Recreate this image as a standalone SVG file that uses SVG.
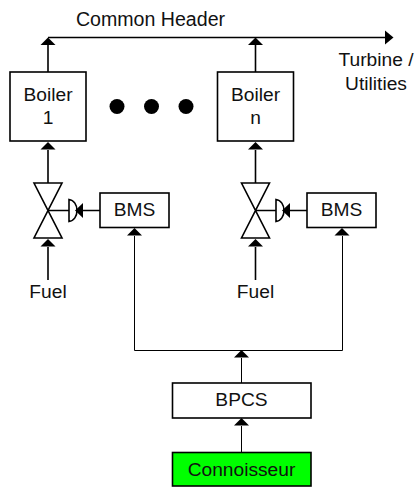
<svg xmlns="http://www.w3.org/2000/svg" width="415" height="487" viewBox="0 0 415 487">
<style>
text{font-family:"Liberation Sans",Arial,sans-serif;font-size:19.2px;fill:#111;text-anchor:middle}
.box{fill:#fff;stroke:#000;stroke-width:1.6}
.thick{fill:none;stroke:#000;stroke-width:1.6}
.thin{fill:none;stroke:#000;stroke-width:1}
.head{fill:#000;stroke:none}
</style>
<rect width="415" height="487" fill="#fff"/>
<g id="connectors">
<path class="thick" d="M48 37.500H385"/>
<path class="head" d="M393.500 37.500L385 30.500V44.500Z"/>
<path class="thick" d="M48 72V45M255.500 72V45M48 183V150M255.500 183V150M48 280V247M255.500 280V247M100 210.500H82M48 210.500H69M255.500 210.500H276M307 210.500H289"/>
<path class="thin" d="M134.500 236V350.500H342.500V236M241.500 383V358M241.500 452V426"/>
<g class="head">
<path d="M48 37.500L40.500 45H55.500Z"/>
<path d="M255.500 37.500L248 45H263Z"/>
<path d="M48 142L40.500 149.500H55.500Z"/>
<path d="M255.500 142L248 149.500H263Z"/>
<path d="M48 239L40.500 246.500H55.500Z"/>
<path d="M255.500 239L248 246.500H263Z"/>
<path d="M75 210.500L83 203V218Z"/>
<path d="M282 210.500L290 203V218Z"/>
<path d="M134.500 228L127 235.500H142Z"/>
<path d="M342 228L334.500 235.500H349.500Z"/>
<path d="M241.500 350L234 357.500H249Z"/>
<path d="M241.500 418L234 425.500H249Z"/>
</g>
</g>
<g id="common-header"><text x="150.500" y="26" style="font-size:19.6px">Common Header</text></g>
<g id="turbine"><text x="376" y="66">Turbine /</text><text x="376" y="89.500">Utilities</text></g>
<g id="boiler-1"><rect class="box" x="10" y="72" width="76" height="69"/><text x="48" y="101">Boiler</text><text x="48" y="124">1</text></g>
<g id="boiler-n"><rect class="box" x="217.500" y="72" width="76" height="69"/><text x="255.500" y="101">Boiler</text><text x="255.500" y="124">n</text></g>
<g id="dots"><circle cx="117" cy="106.500" r="7.500"/><circle cx="151.500" cy="106.500" r="7.500"/><circle cx="186" cy="106.500" r="7.500"/></g>
<g id="valve-1"><path class="thick" d="M34 183H62L34 238H62Z"/><path class="thick" d="M69 199.500C74 200 77 205 77 210.500C77 216 74 221 69 221.500Z"/></g>
<g id="valve-n"><path class="thick" d="M241.500 183H269.500L241.500 238H269.500Z"/><path class="thick" d="M276 199.500C281 200 284 205 284 210.500C284 216 281 221 276 221.500Z"/></g>
<g id="bms-1"><rect class="box" x="100" y="193" width="69" height="34.500"/><text x="134.500" y="216">BMS</text></g>
<g id="bms-n"><rect class="box" x="307" y="193" width="69" height="34.500"/><text x="341.500" y="216">BMS</text></g>
<g id="fuel-1"><text x="48" y="298">Fuel</text></g>
<g id="fuel-n"><text x="255.500" y="298">Fuel</text></g>
<g id="bpcs"><rect class="box" x="172.500" y="383" width="138.500" height="35"/><text x="241.500" y="405.500">BPCS</text></g>
<g id="connoisseur"><rect class="box" x="172.500" y="452.500" width="138.500" height="33.500" style="fill:#0f0"/><text x="241.500" y="475.500">Connoisseur</text></g>
</svg>
